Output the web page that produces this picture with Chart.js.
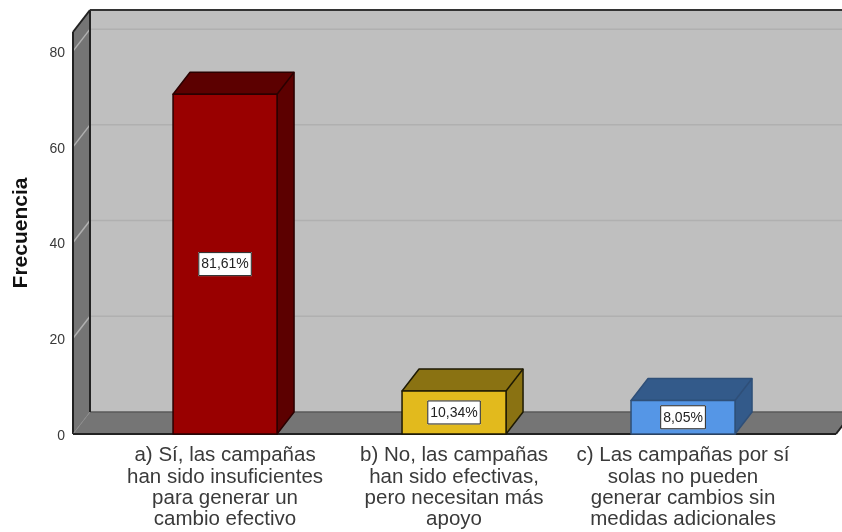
<!DOCTYPE html>
<html>
<head>
<meta charset="utf-8">
<style>html,body{margin:0;padding:0;background:#fff}canvas{display:block}</style>
<script src="https://cdn.jsdelivr.net/npm/chart.js@4/dist/chart.umd.min.js"></script>
</head>
<body>
<canvas id="c" width="842" height="532"></canvas>
<script>
const categories = [
  ["a) Sí, las campañas", "han sido insuficientes", "para generar un", "cambio efectivo"],
  ["b) No, las campañas", "han sido efectivas,", "pero necesitan más", "apoyo"],
  ["c) Las campañas por sí", "solas no pueden", "generar cambios sin", "medidas adicionales"]
];
const frequencies = [71, 9, 7];
const percentLabels = ["81,61%", "10,34%", "8,05%"];
const yTicks = [0, 20, 40, 60, 80];
const frontColors = ["#990000", "#e2ba1d", "#5596e6"];
const sideColors = ["#5c0000", "#8a7212", "#335a8a"];
const edgeColors = ["#2a0000", "#1e1a04", "#2f4f78"];

const DX = 17, DY = 22;
const FONT = '"Liberation Sans", Arial, sans-serif';

const scene = {
  id: 'scene',
  beforeDatasetsDraw(chart) {
    const c = chart.ctx, a = chart.chartArea, y = chart.scales.y;
    const poly = (pts, fill) => {
      c.beginPath();
      pts.forEach((p, i) => i ? c.lineTo(p[0], p[1]) : c.moveTo(p[0], p[1]));
      c.closePath();
      c.fillStyle = fill;
      c.fill();
    };
    const seg = (x1, y1, x2, y2, col, w) => {
      c.beginPath(); c.moveTo(x1, y1); c.lineTo(x2, y2);
      c.strokeStyle = col; c.lineWidth = w; c.stroke();
    };
    c.save();
    poly([[a.left + DX, a.top - DY], [a.right + DX, a.top - DY], [a.right + DX, a.bottom - DY], [a.left + DX, a.bottom - DY]], '#bfbfbf');
    poly([[a.left, a.top], [a.left + DX, a.top - DY], [a.left + DX, a.bottom - DY], [a.left, a.bottom]], '#757575');
    poly([[a.left, a.bottom], [a.left + DX, a.bottom - DY], [a.right + DX, a.bottom - DY], [a.right, a.bottom]], '#757575');
    yTicks.filter(v => v > 0).forEach(v => {
      const p = y.getPixelForValue(v);
      seg(a.left + DX, p - DY, a.right + DX, p - DY, '#b0b0b0', 1.5);
      seg(a.left, p, a.left + DX, p - DY, '#b0b0b0', 1.5);
    });
    seg(a.left + DX, a.bottom - DY, a.right + DX, a.bottom - DY, '#5a5a5a', 1.5);
    seg(a.left + DX, a.top - DY, a.left + DX, a.bottom - DY, '#222', 2);
    seg(a.left + DX, a.top - DY, a.right + DX, a.top - DY, '#333', 2);
    seg(a.left, a.top, a.left + DX, a.top - DY, '#222', 2);
    seg(a.left, a.top, a.left, a.bottom, '#222', 2);
    seg(a.left, a.bottom, a.left + DX, a.bottom - DY, '#8a8a8a', 1);
    seg(a.left, a.bottom, a.right, a.bottom, '#222', 2);
    seg(a.right, a.bottom, a.right + DX, a.bottom - DY, '#222', 2);
    c.restore();
  },
  afterDatasetsDraw(chart) {
    const c = chart.ctx, bars = chart.getDatasetMeta(0).data;
    bars.forEach((b, i) => {
      const l = b.x - b.width / 2, r = b.x + b.width / 2, t = b.y, bot = b.base;
      c.save();
      c.lineJoin = 'round';
      c.strokeStyle = edgeColors[i];
      c.lineWidth = 1.5;
      c.fillStyle = sideColors[i];
      c.beginPath();
      c.moveTo(l, t); c.lineTo(l + DX, t - DY); c.lineTo(r + DX, t - DY);
      c.lineTo(r + DX, bot - DY); c.lineTo(r, bot); c.lineTo(r, t); c.closePath();
      c.fill(); c.stroke();
      c.beginPath(); c.moveTo(r, t); c.lineTo(r + DX, t - DY); c.stroke();
      c.fillStyle = frontColors[i];
      c.fillRect(l, t, b.width, bot - t);
      c.strokeRect(l, t, b.width, bot - t);

      c.font = '14px ' + FONT;
      const txt = percentLabels[i];
      const w = c.measureText(txt).width + 6, h = 24;
      const cy = (t + bot) / 2;
      c.fillStyle = '#ffffff';
      c.fillRect(b.x - w / 2, cy - h / 2, w, h);
      c.strokeStyle = '#222';
      c.lineWidth = 1;
      c.strokeRect(b.x - w / 2 + 0.5, cy - h / 2 + 0.5, w - 1, h - 1);
      c.fillStyle = '#222';
      c.textAlign = 'center';
      c.textBaseline = 'middle';
      c.fillText(txt, b.x, cy + 0.5);
      c.restore();
    });
  }
};

new Chart(document.getElementById('c'), {
  type: 'bar',
  data: {
    datasets: [{
      data: frequencies.map((v, i) => ({ x: i, y: v })),
      backgroundColor: 'rgba(0,0,0,0)',
      borderWidth: 0,
      barThickness: 104
    }]
  },
  options: {
    responsive: false,
    animation: false,
    events: [],
    layout: { padding: { top: 32, right: 6, left: 0, bottom: 0 } },
    plugins: { legend: { display: false }, tooltip: { enabled: false } },
    scales: {
      x: {
        type: 'linear',
        offset: false,
        min: -0.664,
        max: 2.668,
        grid: { display: false, offset: false, tickLength: 0 },
        border: { display: false },
        afterFit(s) { s.height = 98; },
        afterBuildTicks(s) { s.ticks = categories.map((_, i) => ({ value: i })); },
        ticks: {
          autoSkip: false,
          maxRotation: 0,
          minRotation: 0,
          padding: 11,
          color: '#3a3a3a',
          font: { family: FONT, size: 20.5, lineHeight: 1.04 },
          callback: v => categories[v]
        }
      },
      y: {
        min: 0,
        max: 84,
        grid: { display: false, tickLength: 0 },
        border: { display: false },
        afterFit(s) { s.width = 73; },
        afterBuildTicks(s) { s.ticks = yTicks.map(v => ({ value: v })); },
        ticks: {
          padding: 8,
          labelOffset: 2,
          color: '#3a3a3a',
          font: { family: FONT, size: 14 }
        },
        title: {
          display: true,
          text: 'Frecuencia',
          color: '#111',
          padding: { top: 9, bottom: 0 },
          font: { family: FONT, size: 21, weight: 'bold' }
        }
      }
    }
  },
  plugins: [scene]
});
</script>
</body>
</html>
